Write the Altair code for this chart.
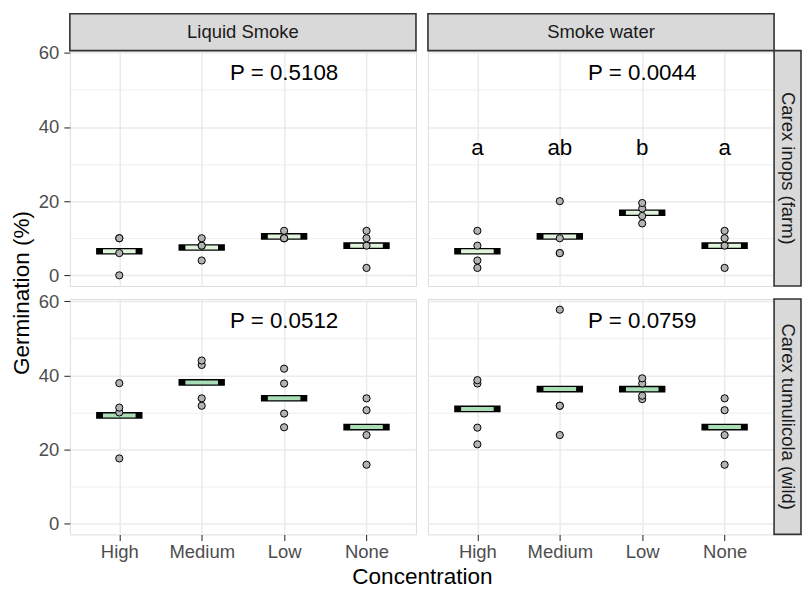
import altair as alt
import pandas as pd

treatments = ["Liquid Smoke", "Smoke water"]
species = ["Carex inops (farm)", "Carex tumulicola (wild)"]
concentrations = ["High", "Medium", "Low", "None"]

# germination (%) of each replicate, per concentration (High, Medium, Low, None)
liquid_inops = [[0, 6, 10, 10], [4, 8, 8, 10], [10, 10, 10, 12], [2, 8, 10, 12]]
water_inops = [[2, 4, 8, 12], [6, 6, 10, 20], [14, 16, 18, 19.5], [2, 8, 10, 12]]
liquid_tumu = [[17.6, 30, 31.3, 37.9], [31.8, 33.8, 42.8, 44], [26, 29.7, 37.8, 41.8], [15.9, 23.9, 30.6, 33.8]]
water_tumu = [[21.4, 25.9, 37.8, 38.7], [23.9, 31.8, 31.8, 57.7], [33.6, 34.5, 37.8, 39.2], [15.9, 23.9, 30.6, 33.8]]

p_labels = ["P = 0.5108", "P = 0.0044", "P = 0.0512", "P = 0.0759"]
p_position = ["Low", 54.6]
letters_water_inops = ["a", "ab", "b", "a"]
letters_y = 34.4
mean_colors = ["#e0f3db", "#a8ddb5"]

FONT = "Liberation Sans"
PW, PH = 347, 236
GAP = 12
STRIP = 37
RSTRIP = 27
yscale = alt.Scale(domain=[-2.885, 60.585], nice=False, zero=False)
xscale = alt.Scale(type="point", domain=concentrations, padding=0.6)

major = "datum.value % 20 == 0"
grid_w = {"condition": {"test": major, "value": 1.5}, "value": 0.8}


def y_axis(left, title=None):
    d = dict(values=[0, 10, 20, 30, 40, 50, 60], grid=True, gridColor="#ebebeb",
             gridWidth=grid_w, domain=False, labelOverlap=False)
    if left:
        d.update(labelExpr=f"{major} ? datum.label : ''",
                 tickOpacity={"condition": {"test": major, "value": 1}, "value": 0},
                 tickColor="#333333", tickSize=6, tickWidth=1.1,
                 labelColor="#4d4d4d", labelFontSize=18.5, labelFont=FONT, labelPadding=5)
    else:
        d.update(labels=False, ticks=False)
    if title:
        d.update(title=title, titleX=-41, titleY=PH + 6.5, titleAngle=-90, titleAlign="center",
                 titleBaseline="alphabetic", titleFontSize=22.6, titleFont=FONT,
                 titleFontWeight="normal", titleColor="black")
    else:
        d.update(title=None)
    return alt.Axis(**d)


def x_axis(bottom, title=None):
    d = dict(grid=True, gridColor="#ebebeb", gridWidth=1.5, domain=False, labelAngle=0)
    if bottom:
        d.update(tickColor="#333333", tickSize=6, tickWidth=1.1, labelColor="#4d4d4d",
                 labelFontSize=18.5, labelFont=FONT, labelPadding=2)
    else:
        d.update(labels=False, ticks=False)
    if title:
        d.update(title=title, titleX=PW + GAP / 2, titleY=49, titleAlign="center",
                 titleBaseline="alphabetic", titleFontSize=22.6, titleFont=FONT,
                 titleFontWeight="normal", titleColor="black")
    else:
        d.update(title=None)
    return alt.Axis(**d)


def strip_layers(top_label=None, right_label=None):
    out = []
    if top_label:
        sdf = pd.DataFrame({"label": [top_label]})
        out.append(alt.Chart(sdf).mark_rect(fill="#d9d9d9", stroke="#333333", strokeWidth=1.6)
                   .encode(x=alt.value(0), x2=alt.value(PW), y=alt.value(-STRIP), y2=alt.value(0)))
        out.append(alt.Chart(sdf).mark_text(fontSize=18.5, font=FONT, color="#1a1a1a",
                                            baseline="middle", align="center")
                   .encode(x=alt.value(PW / 2), y=alt.value(-STRIP / 2), text="label:N"))
    if right_label:
        sdf = pd.DataFrame({"label": [right_label]})
        out.append(alt.Chart(sdf).mark_rect(fill="#d9d9d9", stroke="#333333", strokeWidth=1.6)
                   .encode(x=alt.value(PW), x2=alt.value(PW + RSTRIP), y=alt.value(0), y2=alt.value(PH)))
        out.append(alt.Chart(sdf).mark_text(fontSize=18.5, font=FONT, color="#1a1a1a",
                                            baseline="middle", align="center", angle=90)
                   .encode(x=alt.value(PW + RSTRIP / 2), y=alt.value(PH / 2), text="label:N"))
    return out


def panel(values, p_label, letters, color, left, bottom, top_label=None, right_label=None,
          ytitle=None, xtitle=None):
    df = pd.DataFrame([{"conc": c, "value": v}
                       for c, vals in zip(concentrations, values) for v in vals])
    xa = x_axis(bottom, xtitle)
    ya = y_axis(left, ytitle)
    xenc = alt.X("conc:N", scale=xscale, axis=xa)
    yenc = alt.Y("value:Q", scale=yscale, axis=ya)
    ymean = alt.Y("mean(value):Q", scale=yscale, axis=ya)
    base = alt.Chart(df)
    outer = base.mark_tick(color="black", size=46.5, thickness=6.7, opacity=1).encode(x=xenc, y=ymean)
    inner = base.mark_tick(color=color, size=32.7, thickness=4, opacity=1).encode(x=xenc, y=ymean)
    pts = base.mark_circle(fill="#b3b3b3", stroke="black", strokeWidth=1, size=52,
                           opacity=1).encode(x=xenc, y=yenc)
    pdf = pd.DataFrame({"conc": [p_position[0]], "value": [p_position[1]], "label": [p_label]})
    ptxt = alt.Chart(pdf).mark_text(fontSize=22.4, font=FONT, color="black", baseline="middle",
                                    align="center").encode(x=xenc, y=yenc, text="label:N")
    layers = [outer, inner, pts, ptxt]
    if letters:
        ldf = pd.DataFrame({"conc": concentrations, "value": [letters_y] * 4, "label": letters})
        layers.append(alt.Chart(ldf).mark_text(fontSize=22.4, font=FONT, color="black",
                                               baseline="middle", align="center")
                      .encode(x=xenc, y=yenc, text="label:N"))
    layers += strip_layers(top_label, right_label)
    return alt.layer(*layers).properties(width=PW, height=PH)


tl = panel(liquid_inops, p_labels[0], None, mean_colors[0], True, False,
           top_label=treatments[0], ytitle="Germination (%)")
tr = panel(water_inops, p_labels[1], letters_water_inops, mean_colors[0], False, False,
           top_label=treatments[1], right_label=species[0])
bl = panel(liquid_tumu, p_labels[2], None, mean_colors[1], True, True, xtitle="Concentration")
br = panel(water_tumu, p_labels[3], None, mean_colors[1], False, True, right_label=species[1])

chart = alt.concat(tl, tr, bl, br, columns=2, spacing={"row": 13, "column": GAP},
                   bounds="flush").properties(
    padding={"left": 2, "top": 3, "right": 0, "bottom": 0}
).configure_view(stroke="#333333", strokeWidth=1.6, fill="white").configure(font=FONT)

chart.save("out.html", embed_options={"renderer": "svg", "actions": False})
